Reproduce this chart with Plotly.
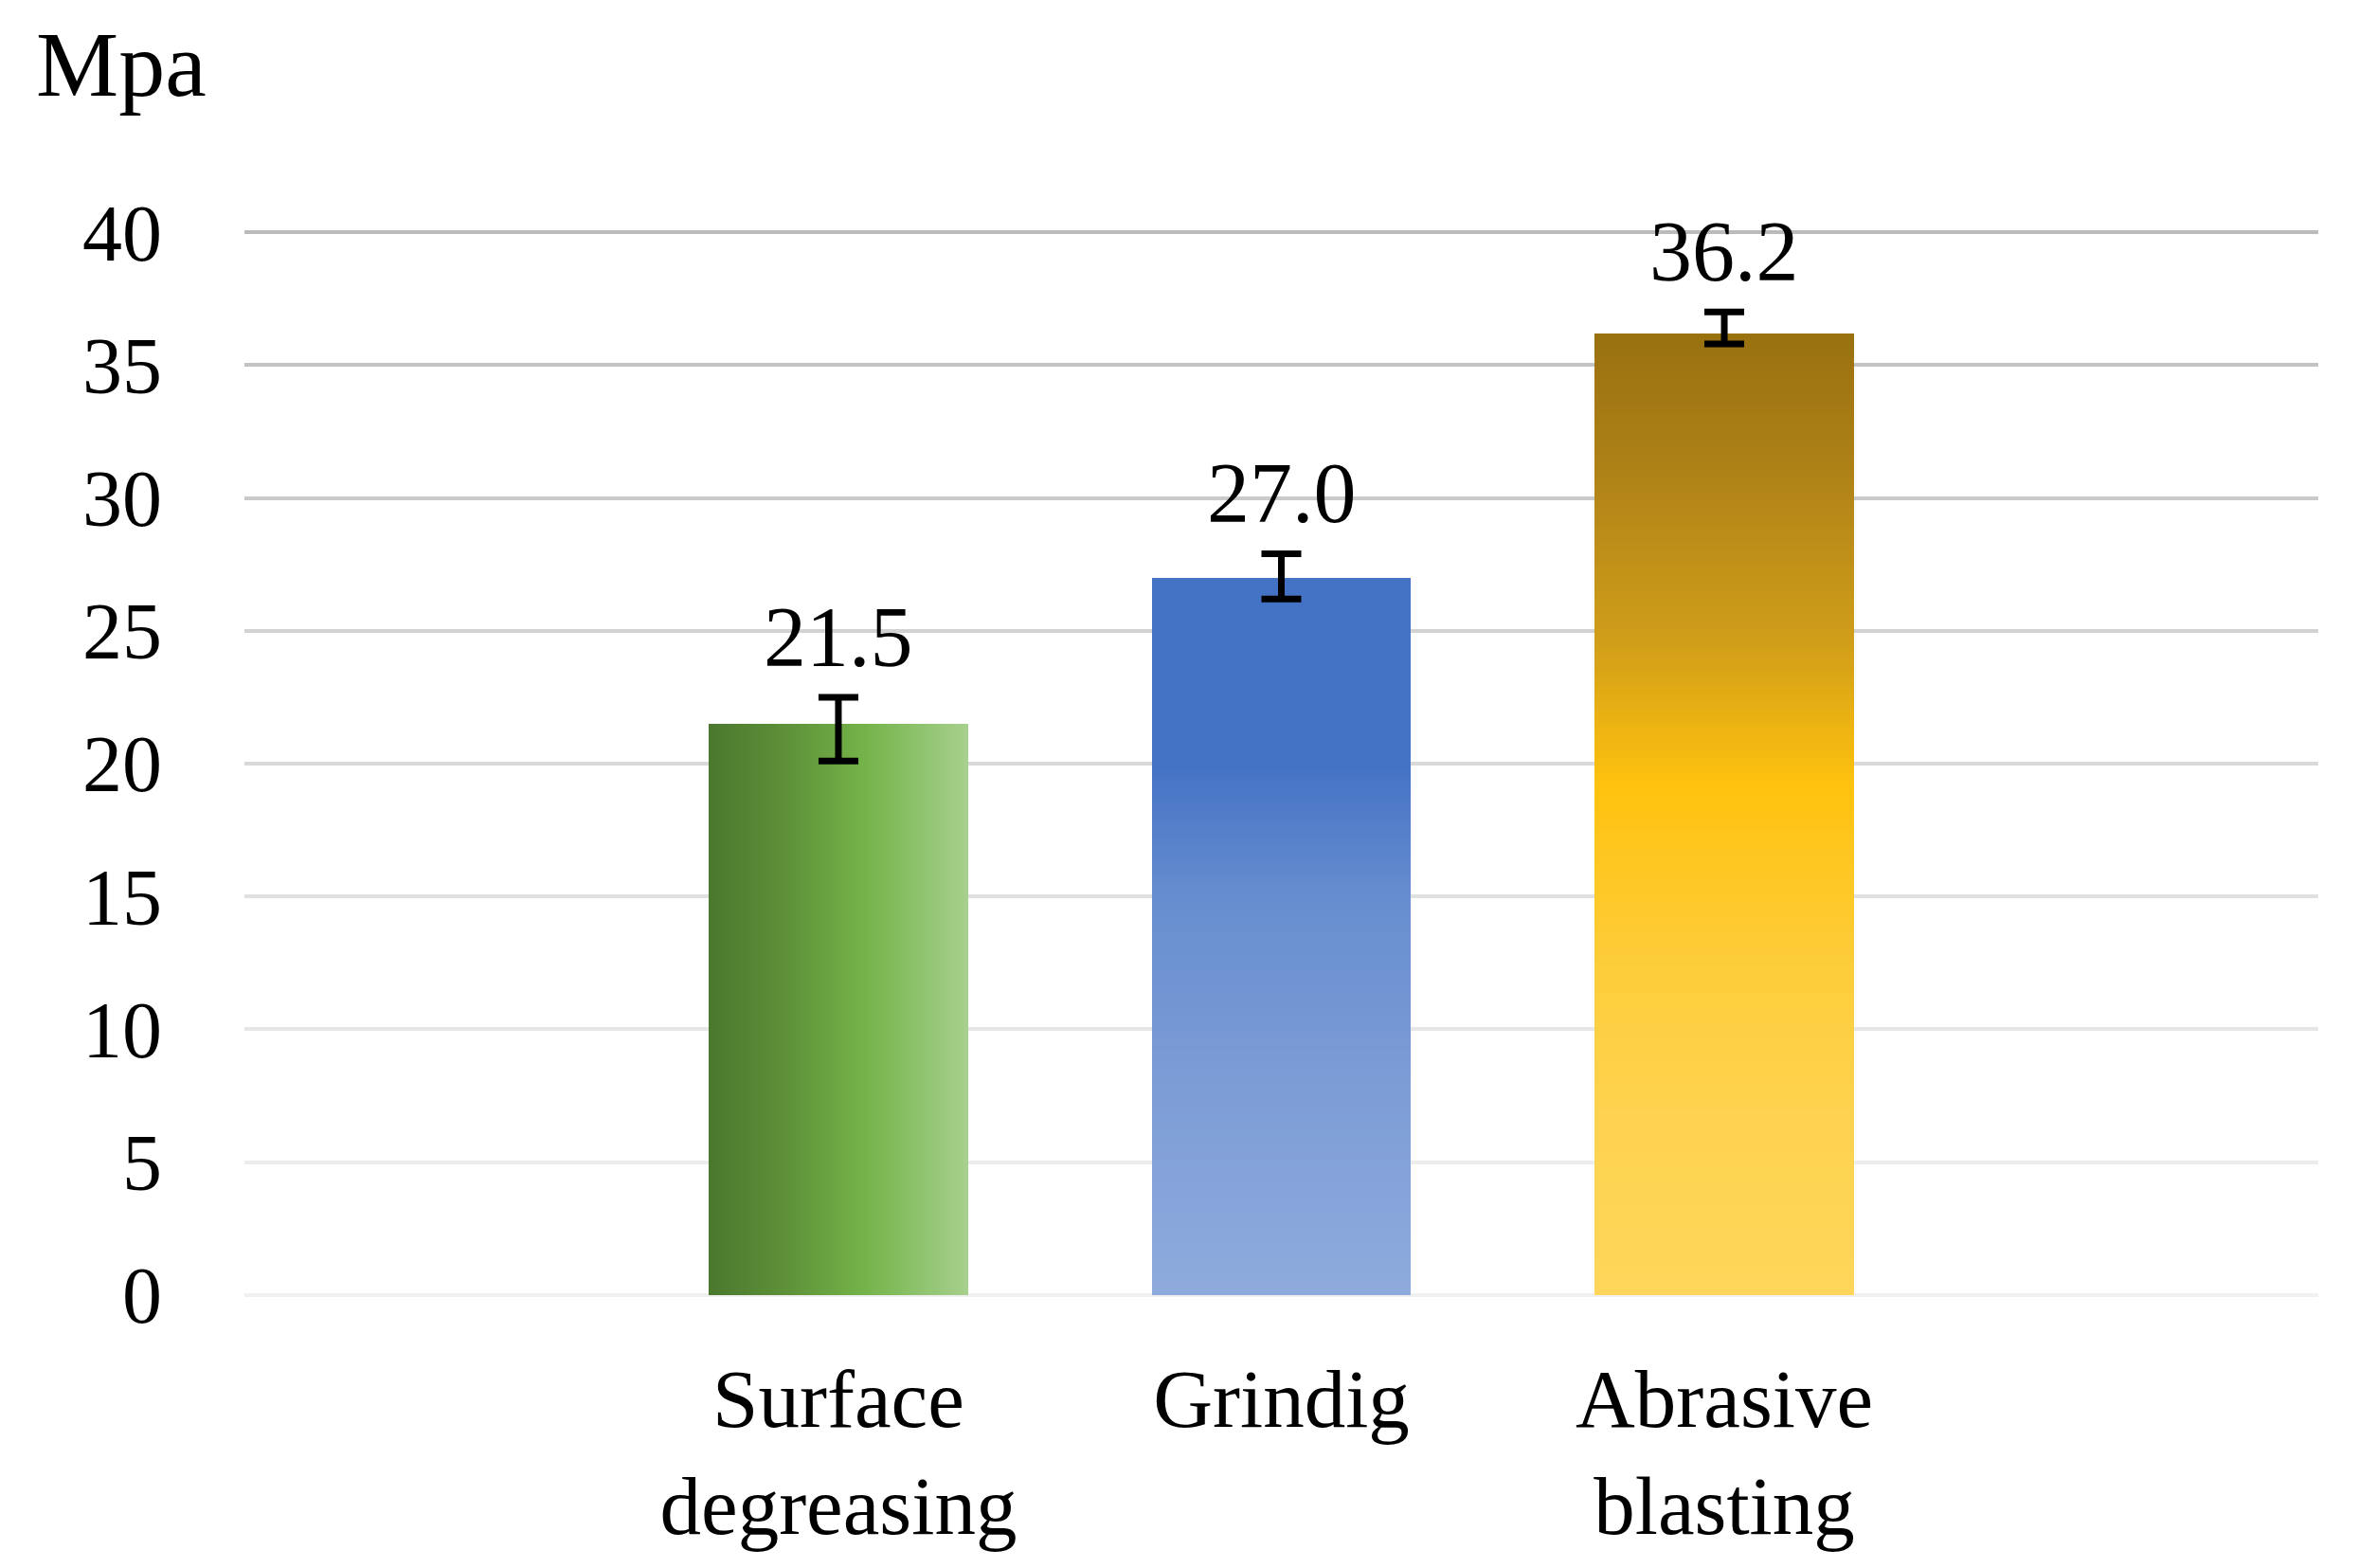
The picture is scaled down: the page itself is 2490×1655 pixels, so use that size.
import plotly.graph_objects as go
from plotly.colors import sample_colorscale

# ---------------- data ----------------
categories = ["Surface<br>degreasing", "Grindig", "Abrasive<br>blasting"]
values = [21.5, 27.0, 36.2]
err_plus = [1.0, 0.9, 0.8]
err_minus = [1.4, 0.8, 0.4]
value_labels = ["21.5", "27.0", "36.2"]
y_ticks = [0, 5, 10, 15, 20, 25, 30, 35, 40]
y_title = "Mpa"

# ---------------- styles ----------------
FONT = "Liberation Serif, serif"
grid_colors = ["#F0F0F0", "#ECECEC", "#E6E6E6", "#E0E0E0", "#D9D9D9",
               "#D2D2D2", "#CACACA", "#C3C3C3", "#BBBBBB"]
# gradient direction and colorscale for each bar (t=0: left / top)
gradients = [
    ("horizontal", [[0.0, "#4A782D"], [0.3, "#5E9139"], [0.6, "#74B349"],
                    [0.8, "#8DC26B"], [1.0, "#A7D08D"]]),
    ("vertical", [[0.0, "#4472C4"], [0.26, "#4472C4"], [0.45, "#678ECF"],
                  [0.7, "#7C9CD6"], [1.0, "#8FABDD"]]),
    ("vertical", [[0.0, "#98700F"], [0.15, "#B08318"], [0.32, "#D09E19"],
                  [0.47, "#FFC20E"], [0.65, "#FDCC38"], [0.82, "#FED350"],
                  [1.0, "#FFD65A"]]),
]
BAR_W = 0.585
N = 120
Y_RANGE = [-0.04, 40.04]

seg_x, seg_y, seg_base, seg_off, seg_w, seg_c = [], [], [], [], [], []
for cat, v, (direction, cs) in zip(categories, values, gradients):
    if direction == "vertical":
        ts = [1 - (k + 0.5) / N for k in range(N)]
        cols = sample_colorscale(cs, ts)
        for k in range(N):
            b = v * k / N
            h = min(v * 2.5 / N, v - b)
            seg_x.append(cat); seg_y.append(h); seg_base.append(b)
            seg_off.append(-BAR_W / 2); seg_w.append(BAR_W); seg_c.append(cols[k])
    else:
        ts = [(k + 0.5) / N for k in range(N)]
        cols = sample_colorscale(cs, ts)
        for k in range(N):
            o = -BAR_W / 2 + BAR_W * k / N
            w = min(BAR_W * 2.5 / N, BAR_W / 2 - o)
            seg_x.append(cat); seg_y.append(v); seg_base.append(0)
            seg_off.append(o); seg_w.append(w); seg_c.append(cols[k])

fig = go.Figure()
# invisible anchor traces so each overlaid gridline axis gets drawn
for i, tv in enumerate(y_ticks):
    fig.add_trace(go.Scatter(
        x=[categories[0]], y=[tv], yaxis=f"y{i + 2}", mode="markers",
        marker=dict(size=1, opacity=0), hoverinfo="skip", showlegend=False,
    ))
fig.add_trace(go.Bar(
    x=seg_x, y=seg_y, base=seg_base, offset=seg_off, width=seg_w,
    marker=dict(color=seg_c, line=dict(width=0)),
    hoverinfo="skip", showlegend=False,
))
fig.add_trace(go.Scatter(
    x=categories, y=values, mode="markers",
    marker=dict(size=1, opacity=0),
    error_y=dict(type="data", symmetric=False, array=err_plus,
                 arrayminus=err_minus, color="black", thickness=7, width=21),
    hoverinfo="skip", showlegend=False,
))

annotations = []
for cat, v, ep, lab in zip(categories, values, err_plus, value_labels):
    annotations.append(dict(
        x=cat, y=v + ep, xref="x", yref="y", text=lab, showarrow=False,
        yanchor="bottom", xanchor="center", yshift=12,
        font=dict(family=FONT, size=90, color="black"),
    ))
annotations.append(dict(
    x=0, y=1, xref="paper", yref="paper", text=y_title, showarrow=False,
    xanchor="left", yanchor="bottom", xshift=-222, yshift=120,
    font=dict(family=FONT, size=98, color="black"),
))

layout = dict(
    width=2482, height=1647,
    margin=dict(l=250, r=43, t=236, b=287, autoexpand=False),
    paper_bgcolor="white", plot_bgcolor="white",
    barmode="overlay", bargap=0,
    showlegend=False,
    font=dict(family=FONT, color="black"),
    xaxis=dict(type="category", categoryorder="array", categoryarray=categories,
               range=[-1.341, 2 + 1.341], showgrid=False, zeroline=False,
               showline=False, ticks="", tickfont=dict(size=87, family=FONT),
               ticklabelstandoff=50, automargin=False),
    yaxis=dict(range=Y_RANGE, tickvals=y_ticks, showgrid=False, zeroline=False,
               showline=False, ticks="", tickfont=dict(size=84, family=FONT),
               ticklabelstandoff=86, automargin=False),
    annotations=annotations,
)
# one overlaid axis per gridline so each line can have its own shade
for i, (tv, gc) in enumerate(zip(y_ticks, grid_colors)):
    layout[f"yaxis{i + 2}"] = dict(
        range=Y_RANGE, overlaying="y", anchor="x", tickvals=[tv],
        showgrid=True, gridcolor=gc, gridwidth=4, showticklabels=False,
        zeroline=False, showline=False, ticks="", automargin=False,
    )
fig.update_layout(**layout)

fig.write_html("out.html")
